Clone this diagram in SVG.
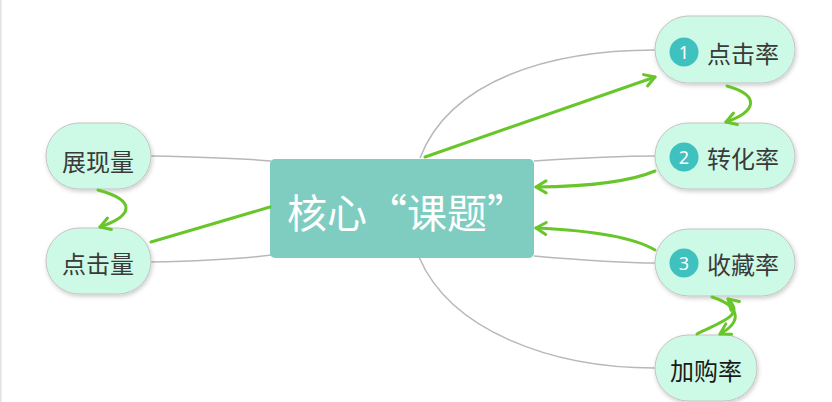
<svg xmlns="http://www.w3.org/2000/svg" width="832" height="402" viewBox="0 0 832 402">
<defs>
<style>
.conn{fill:none;stroke:#b8b8b8;stroke-width:1.5}
.rel{fill:none;stroke:#68c62a;stroke-width:3;stroke-linecap:round}
.pill{fill:#cdfae6;stroke:#c4c4c4;stroke-width:1}
.lbl{font-family:"Noto Sans CJK SC","Noto Sans",sans-serif;font-size:24px;fill:#3a3a3a;dominant-baseline:central}
.badge{fill:#3fc2bf}
.num{font-family:"Noto Sans","Liberation Sans",sans-serif;font-size:18px;fill:#ffffff;text-anchor:middle;dominant-baseline:central}
</style>
<filter id="sh" x="-20%" y="-20%" width="140%" height="150%">
<feDropShadow dx="1" dy="2" stdDeviation="2" flood-color="#000" flood-opacity="0.2"/>
</filter>
<marker id="ah" markerUnits="userSpaceOnUse" markerWidth="16" markerHeight="16" viewBox="0 0 16 16" refX="13" refY="8" orient="auto">
<path d="M3,2 L13,8 L3,14" fill="none" stroke="#68c62a" stroke-width="3" stroke-linecap="round" stroke-linejoin="round"/>
</marker>
</defs>
<rect x="0" y="0" width="832" height="402" fill="#ffffff"/>
<rect x="0" y="0" width="1.5" height="402" fill="#e2e2e2"/>
<g id="connectors">
<path class="conn" d="M151,156 C200,157 240,158 271,161"/>
<path class="conn" d="M151,262 C200,261 240,259 271,255"/>
<path class="conn" d="M420,158 C450,80 550,50 655,50"/>
<path class="conn" d="M534,161 C580,158 620,156 655,156"/>
<path class="conn" d="M534,256 C580,260 620,263 655,263"/>
<path class="conn" d="M419,257 C450,330 550,368 655,368"/>
</g>
<g id="central">
<rect x="270" y="159" width="264" height="99" rx="5" fill="#7ecdc0"/>
<text x="287" y="211" font-family="'Noto Sans CJK SC','Noto Sans',sans-serif" font-size="40" fill="#ffffff" dominant-baseline="central">核心“课题”</text>
</g>
<g id="node-zhanxianliang">
<rect class="pill" x="46" y="123" width="105" height="66" rx="33" filter="url(#sh)"/>
<text class="lbl" x="98" y="160" text-anchor="middle">展现量</text>
</g>
<g id="node-dianjiliang">
<rect class="pill" x="46" y="228" width="105" height="66" rx="33" filter="url(#sh)"/>
<text class="lbl" x="98" y="262" text-anchor="middle">点击量</text>
</g>
<g id="node-dianjilv">
<rect class="pill" x="655" y="16" width="140" height="67" rx="33.5" filter="url(#sh)"/>
<circle class="badge" cx="684" cy="52" r="14.5"/>
<text class="num" x="684" y="52">1</text>
<text class="lbl" x="707" y="52">点击率</text>
</g>
<g id="node-zhuanhualv">
<rect class="pill" x="655" y="123" width="140" height="66" rx="33" filter="url(#sh)"/>
<circle class="badge" cx="684" cy="157" r="14.5"/>
<text class="num" x="684" y="157">2</text>
<text class="lbl" x="707" y="157">转化率</text>
</g>
<g id="node-shoucanglv">
<rect class="pill" x="655" y="229" width="140" height="67" rx="33.5" filter="url(#sh)"/>
<circle class="badge" cx="684" cy="263" r="14.5"/>
<text class="num" x="684" y="263">3</text>
<text class="lbl" x="707" y="263">收藏率</text>
</g>
<g id="node-jiagoulv">
<rect class="pill" x="655" y="335" width="102" height="66" rx="33" filter="url(#sh)"/>
<text class="lbl" x="706" y="369" text-anchor="middle" style="fill:#1a1a1a">加购率</text>
</g>
<g id="relations">
<path class="rel" d="M151,242 L270,207" />
<path class="rel" d="M425,157 L655,77" marker-end="url(#ah)"/>
<path class="rel" d="M655,171 Q620,186 536,187" marker-end="url(#ah)"/>
<path class="rel" d="M655,250 Q625,232 536,228" marker-end="url(#ah)"/>
<path class="rel" d="M98,190 C135,200 135,215 100,227" marker-end="url(#ah)"/>
<path class="rel" d="M727,86 C762,96 755,112 726,122" marker-end="url(#ah)"/>
<path class="rel" d="M697,334 C720,322 746,316 728,299" marker-end="url(#ah)"/>
<path class="rel" d="M712,297 C737,305 745,320 720,334" marker-end="url(#ah)"/>
</g>
</svg>
